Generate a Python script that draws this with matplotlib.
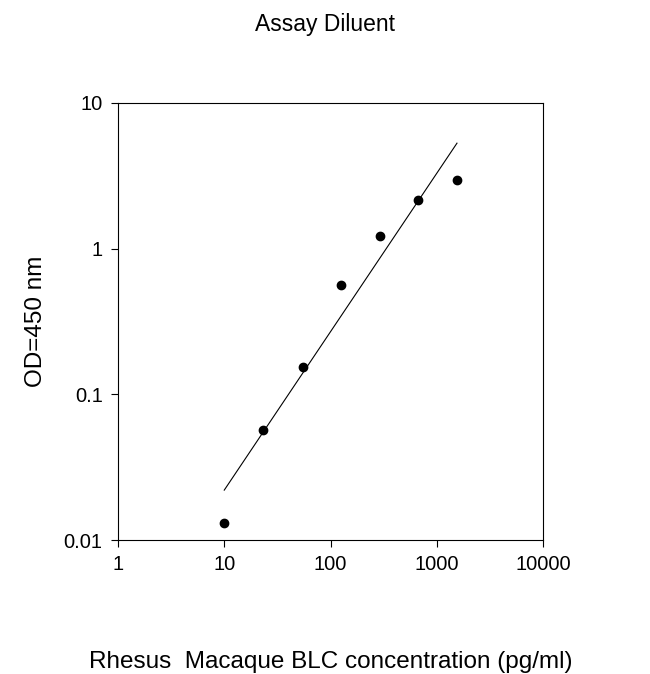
import numpy as np
import matplotlib.pyplot as plt

plt.rcParams['font.family'] = ['Liberation Sans', 'DejaVu Sans']

conc = [10, 23, 55, 126, 290, 670, 1550]
od = [0.013, 0.057, 0.155, 0.56, 1.22, 2.15, 2.95]
fit_x = [10, 1550]
fit_y = [0.022, 5.3]

fig = plt.figure(figsize=(6.5, 6.74), dpi=100)
ax = fig.add_axes([118 / 650, 1 - 540 / 674, 425 / 650, 437 / 674])

ax.plot(fit_x, fit_y, color='black', lw=0.8)
ax.plot(conc, od, 'o', color='black', ms=6)

ax.set_xscale('log')
ax.set_yscale('log')
ax.set_xlim(1, 10 ** 3.95)
ax.set_ylim(0.01, 10)
ax.set_xticks([1, 10, 100, 1000, 10000])
ax.set_xticklabels(['1', '10', '100', '1000', '10000'])
ax.set_yticks([0.01, 0.1, 1, 10])
ax.set_yticklabels(['0.01', '0.1', '1', '10'])
ax.minorticks_off()
ax.tick_params(labelsize=14.5, length=5, width=0.8, pad=6)
for s in ax.spines.values():
    s.set_linewidth(0.8)

ax.set_xlabel('Rhesus  Macaque BLC concentration (pg/ml)', fontsize=17.5, labelpad=55)
ax.set_ylabel('OD=450 nm', fontsize=17.5, labelpad=12)
fig.text(0.5, 1 - 24 / 674, 'Assay Diluent', ha='center', va='center', fontsize=16.5)

fig.savefig('out.png', dpi=100)
